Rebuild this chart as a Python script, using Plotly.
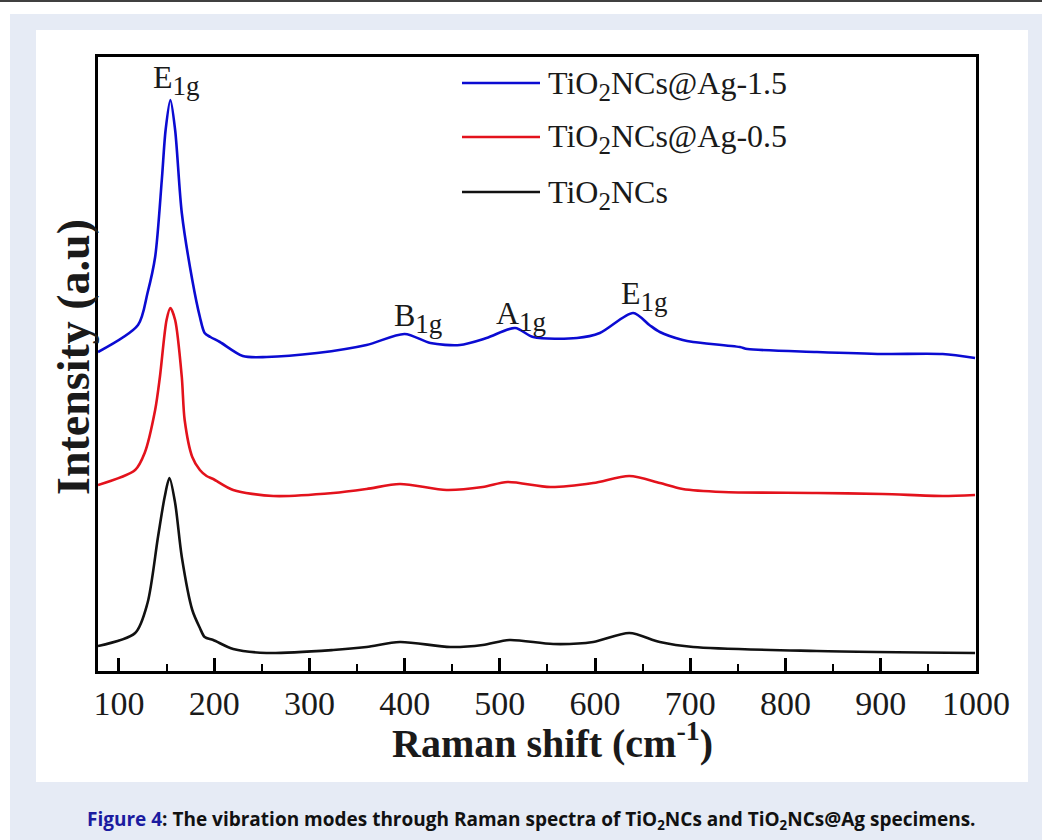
import plotly.graph_objects as go

# ---------------- data ----------------
series_names = ["TiO<sub><span style='font-size:25px'>2</span></sub>NCs@Ag-1.5",
                "TiO<sub><span style='font-size:25px'>2</span></sub>NCs@Ag-0.5",
                "TiO<sub><span style='font-size:25px'>2</span></sub>NCs"]
series_colors = ["#0b0bd2", "#e3121c", "#111111"]

blue_x = [78, 120, 130, 138, 145, 149, 154, 159, 166, 177, 185, 190, 196, 206, 230, 255, 308, 360,
          400, 427, 458, 486, 516, 535, 581, 605, 640, 657, 668, 692, 703, 752, 760, 833, 902, 965, 999]
blue_y = [319, 346, 378, 414, 491, 541, 571, 541, 458, 391, 354, 338, 334, 329, 315, 314, 318, 326,
          337, 328, 326, 333, 343, 334, 333, 338, 358, 346, 339, 331, 329, 324, 322, 319, 317, 317, 313]

red_x = [78, 117, 127, 138, 143, 150, 154, 159, 166, 169, 177, 185, 192, 199, 220, 262, 325, 360,
         395, 444, 482, 508, 553, 598, 636, 668, 692, 734, 833, 902, 965, 999]
red_y = [186, 201, 218, 261, 294, 351, 363, 351, 294, 251, 214, 201, 195, 192, 181, 175, 178, 182,
         187, 181, 184, 189, 184, 188, 195, 188, 182, 179, 178, 177, 175, 176]

black_x = [78, 117, 130, 141, 148, 153, 159, 166, 177, 185, 190, 199, 220, 255, 325, 360, 395, 448,
           482, 510, 556, 598, 636, 668, 703, 833, 999]
black_y = [25, 38, 68, 134, 174, 193, 168, 114, 61, 43, 34, 31, 22, 18, 21, 24, 29, 24,
           26, 31, 27, 29, 38, 29, 24, 20, 18]

peak_labels = ["E", "B", "A", "E"]
peak_subs = ["1g", "1g", "1g", "1g"]

x_ticks = [100, 200, 300, 400, 500, 600, 700, 800, 900, 1000]

# ---------------- geometry helpers (layout only) ----------------
W, H = 1042, 840
L, R, T, B = 98, 976, 57, 671


def px(X):
    return (X - L) / (R - L)


def py(Y):
    return (B - Y) / (B - T)


SERIF = "Liberation Serif, Times New Roman, serif"
SANS = "Open Sans, Noto Sans, sans-serif"

fig = go.Figure()
for xs, ys, name, col in zip([blue_x, red_x, black_x], [blue_y, red_y, black_y],
                             series_names, series_colors):
    fig.add_trace(go.Scatter(x=xs, y=ys, mode="lines", name=name, showlegend=False,
                             line=dict(color=col, width=2.6, shape="spline", smoothing=0.8)))

shapes = [
    dict(type="rect", xref="paper", yref="paper", x0=px(10), x1=px(1050), y0=py(14), y1=py(850),
         fillcolor="#e6ebf5", line=dict(width=0), layer="below"),
    dict(type="rect", xref="paper", yref="paper", x0=px(36), x1=px(1028), y0=py(30), y1=py(782),
         fillcolor="white", line=dict(width=0), layer="below"),
    dict(type="line", xref="paper", yref="paper", x0=px(0), x1=px(1042), y0=py(1), y1=py(1),
         line=dict(color="black", width=1.5)),
]

annotations = []
# legend (custom, long line samples as in the reference)
leg_y = [83, 137, 192]
for name, col, Y in zip(series_names, series_colors, leg_y):
    shapes.append(dict(type="line", xref="paper", yref="paper", x0=px(462), x1=px(540),
                       y0=py(Y), y1=py(Y), line=dict(color=col, width=2.6)))
    annotations.append(dict(xref="paper", yref="paper", x=px(546), y=py(Y + 2), text=name,
                            showarrow=False, xanchor="left", yanchor="middle",
                            font=dict(family=SERIF, size=32, color="#1a1a1a")))

# peak labels
peak_pos = [(151, 80), (392, 318), (494, 316), (619, 296)]
for lab, sub, (X, Y) in zip(peak_labels, peak_subs, peak_pos):
    annotations.append(dict(xref="paper", yref="paper", x=px(X), y=py(Y),
                            text=f"{lab}<sub><span style='font-size:27px'>{sub}</span></sub>",
                            showarrow=False, xanchor="left", yanchor="middle",
                            font=dict(family=SERIF, size=32, color="#1a1a1a")))

# axis titles
annotations.append(dict(xref="paper", yref="paper", x=px(552), y=py(740),
                        text="<b>Raman shift (cm<sup>-1</sup>)</b>", showarrow=False,
                        xanchor="center", yanchor="middle",
                        font=dict(family=SERIF, size=40, color="#1a1a1a")))
annotations.append(dict(xref="paper", yref="paper", x=px(73), y=py(357),
                        text="<b>Intensity (a.u)</b>", showarrow=False, textangle=-90,
                        xanchor="center", yanchor="middle",
                        font=dict(family=SERIF, size=46, color="#1a1a1a")))

# caption
annotations.append(dict(xref="paper", yref="paper", x=px(531), y=py(820),
                        text="<b><span style='color:#1b1ba0'>Figure 4</span>: The vibration modes through "
                             "Raman spectra of TiO<sub>2</sub>NCs and TiO<sub>2</sub>NCs@Ag specimens.</b>",
                        showarrow=False, xanchor="center", yanchor="middle",
                        font=dict(family=SANS, size=19, color="#111111")))

fig.update_layout(
    width=W, height=H,
    margin=dict(l=L, r=W - R, t=T, b=H - B, pad=0),
    paper_bgcolor="white", plot_bgcolor="white",
    shapes=shapes, annotations=annotations,
    showlegend=False,
)

fig.update_xaxes(range=[78, 1000], tickvals=x_ticks, ticks="inside", ticklen=13, tickwidth=2.5,
                 tickcolor="black", showline=True, linecolor="black", linewidth=2.5, mirror=True,
                 showgrid=False, zeroline=False,
                 minor=dict(ticks="inside", ticklen=7, tickwidth=2, dtick=50, tick0=0,
                            tickcolor="black", showgrid=False),
                 tickfont=dict(family=SERIF, size=34, color="#1a1a1a"))
fig.update_yaxes(range=[0, 614], showticklabels=False, ticks="", showline=True, linecolor="black",
                 linewidth=2.5, mirror=True, showgrid=False, zeroline=False)

fig.write_html("out.html", config={"displayModeBar": False},
               post_script="document.body.style.margin='0';document.body.style.overflow='hidden';")
